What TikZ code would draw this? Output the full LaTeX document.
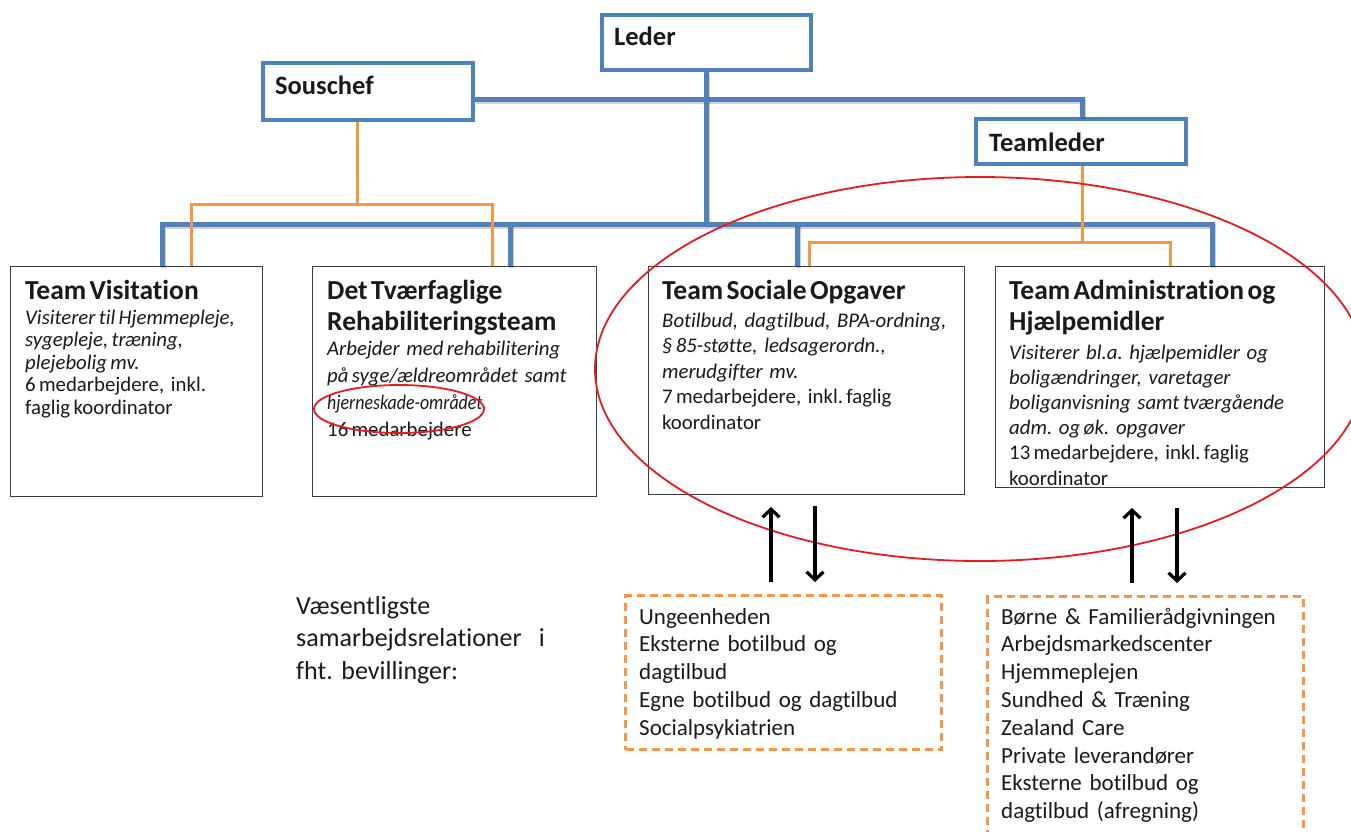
\documentclass[tikz,border=0pt]{standalone}
\usepackage{fontspec}
\setmainfont{Carlito}[Ligatures={NoCommon,NoContextual}]
\usetikzlibrary{arrows.meta,calc}
\definecolor{orgblue}{HTML}{4F81BD}
\definecolor{orgorange}{HTML}{F79646}
\definecolor{ringred}{HTML}{E31B23}
\definecolor{boxgray}{HTML}{3C3C3C}
\definecolor{ink}{HTML}{1A1A1A}
\newcommand\ttlfont[1]{\fontsize{27.5}{#1}\selectfont\bfseries}
\newcommand\bodyfont[1]{\fontsize{20.8}{#1}\selectfont}

\begin{document}
\frenchspacing
\begin{tikzpicture}[x=1pt,y=-1pt,
  chief/.style={draw=orgblue, line width=3.5pt, fill=white, anchor=north west, inner sep=0pt},
  team/.style={draw=boxgray, line width=1.4pt, fill=white, anchor=north west, inner sep=0pt},
  relbox/.style={draw=orgorange, line width=3pt, dash pattern=on 8pt off 5pt, anchor=north west, inner sep=0pt},
  chieflabel/.style={anchor=base west, inner sep=0pt, text=ink, font=\fontsize{26.5}{30}\selectfont\bfseries},
  teamtext/.style={anchor=base west, inner sep=0pt, align=left, text=ink},
  reltext/.style={anchor=base west, inner sep=0pt, align=left, text=ink, text width=300pt, font=\fontsize{23}{27.8}\selectfont},
  bluelink/.style={draw=orgblue, line width=5pt, line join=miter,
    preaction={draw=black, opacity=0.18, line width=5pt, transform canvas={shift={(1.2pt,-2pt)}}}},
  orangelink/.style={draw=orgorange, line width=3pt, line join=miter},
  ring/.style={draw=ringred, line width=1.8pt},
  flow/.style={draw=black, line width=3.2pt, -{Straight Barb[length=8pt,width=17pt,line width=3.2pt]}}
]
\clip (0,0) rectangle (1351,831);
\fill[white] (0,0) rectangle (1351,831);

% management boxes
\node[chief, minimum width=209pt, minimum height=55pt] (ld) at (600,13) {};
\node[chief, minimum width=210pt, minimum height=57pt] (sc) at (261,61) {};
\node[chief, minimum width=210pt, minimum height=45pt] (tl) at (974,117) {};
\node[chieflabel] (ldt) at ($(ld.north west)+(14,32)$) {Leder};
\node[chieflabel] (sct) at ($(sc.north west)+(14,33)$) {Souschef};
\node[chieflabel] (tlt) at ($(tl.north west)+(15,34)$) {Teamleder};

% team boxes
\node[team, minimum width=252pt, minimum height=230pt] (tv) at (10,266) {};
\node[team, minimum width=284pt, minimum height=230pt] (dtr) at (312,266) {};
\node[team, minimum width=316pt, minimum height=228pt] (tso) at (648,266) {};
\node[team, minimum width=329pt, minimum height=221pt] (tah) at (995,266) {};

% relation boxes
\node[relbox, minimum width=316pt, minimum height=154pt] (rel1) at (624,594) {};
\node[relbox, minimum width=316pt, minimum height=240pt] (rel2) at (986,595) {};

% junction points of the lines
\coordinate (tlJ) at (1082,99);
\coordinate (busL) at (162,224);
\coordinate (busR) at (1212,224);
\coordinate (busD) at (510,224);
\coordinate (busS) at (797,224);
\coordinate (scJ) at (357,204);
\coordinate (soL) at (191,204);
\coordinate (soR) at (492,204);
\coordinate (tlK) at (1082,242);
\coordinate (tkL) at (809,242);
\coordinate (tkR) at (1170,242);

% blue reporting lines
\draw[bluelink] (sc.east |- tlJ) -- (tlJ) -- (tlJ |- tl.north);
\draw[bluelink] (ld.south) -- (ld.south |- busL);
\draw[bluelink] (busL |- tv.north) -- (busL) -- (busR) -- (busR |- tah.north);
\draw[bluelink] (busD) -- (busD |- dtr.north);
\draw[bluelink] (busS) -- (busS |- tso.north);

% orange lines
\draw[orangelink] (sc.south -| scJ) -- (scJ);
\draw[orangelink] (soL |- tv.north) -- (soL) -- (soR) -- (soR |- dtr.north);
\draw[orangelink] (tl.south -| tlK) -- (tlK);
\draw[orangelink] (tkL |- tso.north) -- (tkL) -- (tkR) -- (tkR |- tah.north);

% team texts
\node[teamtext, text width=240pt] (tvt) at ($(tv.north west)+(15,33)$)
  {{\ttlfont{31}Team Visitation\par}\bodyfont{22.6}\vspace{2.4pt}%
   \textit{Visiterer til Hjemmepleje,}\\
   \textit{sygepleje, træning,}\\
   \textit{plejebolig mv.}\\
   6 medarbejdere,\ \ inkl.\\
   faglig koordinator\par};
\node[teamtext, text width=275pt] (dtrt) at ($(dtr.north west)+(15,33)$)
  {{\ttlfont{31}Det Tværfaglige\\Rehabiliteringsteam\par}\bodyfont{27.3}\vspace{-2.3pt}%
   \textit{Arbejder\ \ med rehabilitering}\\
   \textit{på syge/ældreområdet\ \ samt}\\
   \scalebox{0.86}[1]{\textit{hjerneskade-området.}}\\
   16 medarbejdere\par};
\node[teamtext, text width=305pt] (tsot) at ($(tso.north west)+(14,33)$)
  {{\ttlfont{31}Team Sociale Opgaver\par}\bodyfont{25.5}\vspace{2.5pt}%
   \textit{Botilbud,\ \ dagtilbud,\ \ BPA-ordning,}\\
   \textit{§ 85-støtte,\ \ ledsagerordn.,}\\
   \textit{merudgifter\ \ mv.}\\
   7 medarbejdere,\ \ inkl. faglig\\
   koordinator\par};
\node[teamtext, text width=315pt] (taht) at ($(tah.north west)+(14,33)$)
  {{\ttlfont{31}Team Administration og\\Hjælpemidler\par}\bodyfont{25.2}\vspace{3.8pt}%
   \textit{Visiterer\ \ bl.a.\ \ hjælpemidler\ \ og}\\
   \textit{boligændringer,\ \ varetager}\\
   \textit{boliganvisning\ \ samt tværgående}\\
   \textit{adm.\ \ og øk.\ \ opgaver}\\
   13 medarbejdere,\ \ inkl. faglig\\
   koordinator\par};

% highlight rings
\draw[ring] (980,369) ellipse [x radius=385pt, y radius=192pt];
\draw[ring] (399,409) ellipse [x radius=85pt, y radius=24pt];

% relations
\node[anchor=base west, inner sep=0pt, align=left, text=ink, text width=320pt,
      font=\fontsize{26}{32.5}\selectfont] (note) at (296,614)
  {Væsentligste\\samarbejdsrelationer\ \ i\\fht. bevillinger:};
\node[reltext] (r1t) at ($(rel1.north west)+(15,30)$)
  {Ungeenheden\\Eksterne botilbud og\\dagtilbud\\Egne botilbud og dagtilbud\\Socialpsykiatrien};
\node[reltext] (r2t) at ($(rel2.north west)+(15,29)$)
  {Børne \& Familierådgivningen\\Arbejdsmarkedscenter\\Hjemmeplejen\\Sundhed \& Træning\\Zealand Care\\Private leverandører\\Eksterne botilbud og\\dagtilbud (afregning)};

% exchange arrows
\coordinate (a1b) at (771,582); \coordinate (a1t) at (771,507);
\coordinate (a2t) at (815,506); \coordinate (a2b) at (815,582);
\coordinate (a3b) at (1132,583); \coordinate (a3t) at (1132,508);
\coordinate (a4t) at (1177,508); \coordinate (a4b) at (1177,583);
\draw[flow] (a1b) -- (a1t);
\draw[flow] (a2t) -- (a2b);
\draw[flow] (a3b) -- (a3t);
\draw[flow] (a4t) -- (a4b);
\end{tikzpicture}
\end{document}
